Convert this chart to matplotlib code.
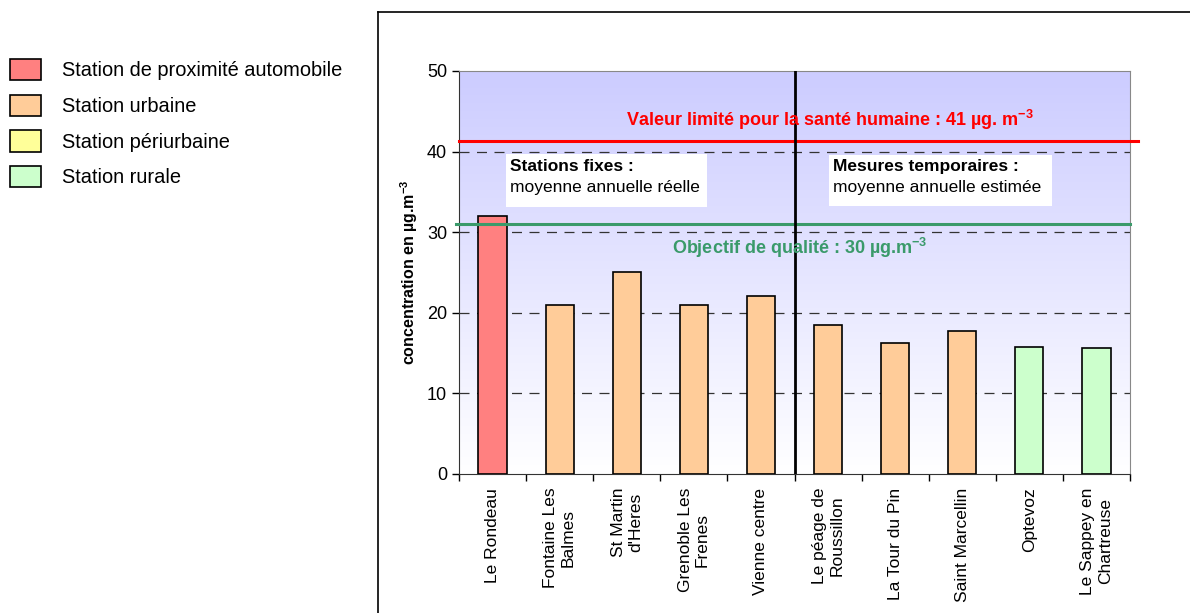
import numpy as np
import matplotlib
matplotlib.use("Agg")
import matplotlib.pyplot as plt
from matplotlib.patches import Patch, Rectangle
from matplotlib.lines import Line2D

plt.rcParams['font.family'] = ['Liberation Sans', 'DejaVu Sans']
plt.rcParams['mathtext.fontset'] = 'custom'
plt.rcParams['mathtext.rm'] = 'Liberation Sans'
plt.rcParams['mathtext.bf'] = 'Liberation Sans:bold'

# données
stations = ["Le Rondeau", "Fontaine Les\nBalmes", "St Martin\nd'Heres", "Grenoble Les\nFrenes",
            "Vienne centre", "Le péage de\nRoussillon", "La Tour du Pin", "Saint Marcellin",
            "Optevoz", "Le Sappey en\nChartreuse"]
valeurs = [32, 21, 25, 21, 22.1, 18.5, 16.3, 17.7, 15.8, 15.6]
types = ["proximite", "urbaine", "urbaine", "urbaine", "urbaine",
         "urbaine", "urbaine", "urbaine", "rurale", "rurale"]
legende = ["Station de proximité automobile", "Station urbaine", "Station périurbaine", "Station rurale"]
couleurs = {"proximite": "#ff8080", "urbaine": "#ffcc99", "periurbaine": "#ffff99", "rurale": "#ccffcc"}
valeur_limite = 41.3
objectif = 31

fig = plt.figure(figsize=(11.9, 6.13), dpi=100)
ax = fig.add_axes([0.3857, 0.2268, 0.5639, 0.6574])

n = len(stations)
x = np.arange(n)

# fond dégradé (violet clair en haut -> blanc en bas)
grad = np.linspace(0, 1, 256).reshape(-1, 1)
top = np.array([204, 204, 255]) / 255
bot = np.array([255, 255, 255]) / 255
img = top[None, None, :] * (1 - grad[:, :, None]) + bot[None, None, :] * grad[:, :, None]
ax.imshow(img, extent=[-0.5, n - 0.5, 0, 50], origin='upper', aspect='auto', zorder=0)
ax.set_xlim(-0.5, n - 0.5)
ax.set_ylim(0, 50)

for yv in [10, 20, 30, 40]:
    ax.axhline(yv, color='#333333', lw=0.9, dashes=(8, 6), zorder=1)

ax.bar(x, valeurs, width=0.42, color=[couleurs[t] for t in types],
       edgecolor='black', linewidth=1.2, zorder=3)

ax.axhline(valeur_limite, color='#ff0000', lw=2.2, zorder=4, clip_on=False, xmax=1.012)
ax.axhline(objectif, color='#3a9a6a', lw=2.2, zorder=4, clip_on=False, xmin=-0.005)
ax.axvline(4.5, color='black', lw=2, zorder=5)

ax.text(5.03, 43.9, "Valeur limité pour la santé humaine : 41 µg. m$^{\\mathbf{-3}}$",
        color='#ff0000', fontsize=13, fontweight='bold', ha='center', va='center', zorder=6)
ax.text(4.58, 28.0, "Objectif de qualité : 30 µg.m$^{\\mathbf{-3}}$",
        color='#3a9a6a', fontsize=13, fontweight='bold', ha='center', va='center', zorder=6)

# encadrés
ax.add_patch(Rectangle((0.2, 33.13), 2.996, 6.57, facecolor='white', edgecolor='none', zorder=6))
ax.add_patch(Rectangle((5.01, 33.25), 3.33, 6.33, facecolor='white', edgecolor='none', zorder=6))
ax.text(0.26, 38.2, "Stations fixes :", fontsize=12.5, fontweight='bold', ha='left', va='center', zorder=7)
ax.text(0.26, 35.5, "moyenne annuelle réelle", fontsize=12.5, ha='left', va='center', zorder=7)
ax.text(5.07, 38.2, "Mesures temporaires :", fontsize=12.5, fontweight='bold', ha='left', va='center', zorder=7)
ax.text(5.07, 35.5, "moyenne annuelle estimée", fontsize=12.5, ha='left', va='center', zorder=7)

# axes
ax.set_yticks([0, 10, 20, 30, 40, 50])
ax.tick_params(axis='y', direction='out', length=5, labelsize=13, width=1)
ax.set_xticks(np.arange(-0.5, n, 1))
ax.set_xticklabels([])
ax.tick_params(axis='x', direction='out', length=5, width=1)
for i, s in enumerate(stations):
    ax.text(i, -1.7, s, rotation=90, ha='center', va='top', fontsize=12.5,
            multialignment='center')

ax.set_ylabel("concentration en µg.m$^{\\mathbf{-3}}$", fontsize=11.5, fontweight='bold', labelpad=5)
ax.spines['left'].set_color('#333333')
ax.spines['bottom'].set_color('#333333')
ax.spines['top'].set_color('#888888')
ax.spines['right'].set_color('#888888')

# cadre du graphique
fig.add_artist(Line2D([0.3176, 0.3176], [0.0, 0.9804], color='black', lw=1.2))
fig.add_artist(Line2D([0.3176, 1.0], [0.9804, 0.9804], color='black', lw=1.2))

# légende
handles = [Patch(facecolor=couleurs[k], edgecolor='black', linewidth=1.2)
           for k in ["proximite", "urbaine", "periurbaine", "rurale"]]
fig.legend(handles, legende, loc='upper left', bbox_to_anchor=(0.0, 0.92), frameon=False,
           fontsize=14.4, handlelength=1.55, handleheight=1.25, handletextpad=1.05,
           labelspacing=0.72, borderaxespad=0, borderpad=0.5)

fig.savefig("out.png", dpi=100)
